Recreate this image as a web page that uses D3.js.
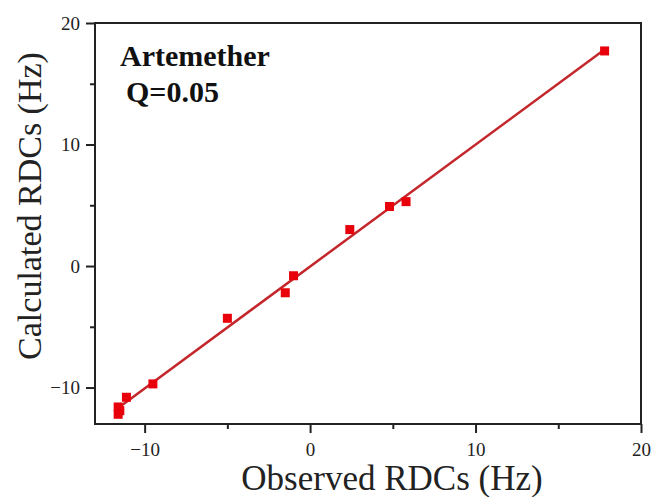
<!DOCTYPE html>
<html><head><meta charset="utf-8">
<script src="https://cdn.jsdelivr.net/npm/d3@7"></script>
<style>body{margin:0;background:#fff}svg{display:block}</style>
</head><body>
<script>
const observed   = [17.8, 5.8, 4.8, 2.4, -1.0, -1.5, -5.0, -9.5, -11.1, -11.6, -11.6, -11.5];
const calculated = [17.7, 5.3, 4.9, 3.0, -0.8, -2.2, -4.3, -9.7, -10.8, -11.6, -12.2, -11.9];
const majorTicks = [-10, 0, 10, 20];
const minorTicks = [-5, 5, 15];
const title = "Artemether";
const qLabel = "Q=0.05";

const W = 655, H = 497;
const m = {l: 95, r: 14, t: 23, b: 73};
const svg = d3.select("body").append("svg").attr("width", W).attr("height", H);
const x = d3.scaleLinear().domain([-13, 20]).range([m.l, W - m.r]);
const y = d3.scaleLinear().domain([-13, 20]).range([H - m.b, m.t]);
const font = "'Liberation Serif', 'Times New Roman', serif";
const axCol = "#222";

// frame
svg.append("rect").attr("x", x(-13)).attr("y", y(20)).attr("width", x(20) - x(-13)).attr("height", y(-13) - y(20))
  .attr("fill", "none").attr("stroke", axCol).attr("stroke-width", 2);

// x axis
const gx = svg.append("g").attr("transform", `translate(0,${y(-13)})`)
  .call(d3.axisBottom(x).tickValues(majorTicks).tickSize(9).tickPadding(10).tickFormat(d3.format("d")));
gx.select(".domain").remove();
gx.selectAll("line").attr("stroke", axCol).attr("stroke-width", 2);
gx.selectAll("text").attr("font-family", font).attr("font-size", 19).attr("fill", "#222");
const gxm = svg.append("g").attr("transform", `translate(0,${y(-13)})`)
  .call(d3.axisBottom(x).tickValues(minorTicks).tickSize(5).tickFormat(""));
gxm.select(".domain").remove();
gxm.selectAll("line").attr("stroke", axCol).attr("stroke-width", 2);

// y axis
const gy = svg.append("g").attr("transform", `translate(${x(-13)},0)`)
  .call(d3.axisLeft(y).tickValues(majorTicks).tickSize(9).tickPadding(6).tickFormat(d3.format("d")));
gy.select(".domain").remove();
gy.selectAll("line").attr("stroke", axCol).attr("stroke-width", 2);
gy.selectAll("text").attr("font-family", font).attr("font-size", 19).attr("fill", "#222");
const gym = svg.append("g").attr("transform", `translate(${x(-13)},0)`)
  .call(d3.axisLeft(y).tickValues(minorTicks).tickSize(5).tickFormat(""));
gym.select(".domain").remove();
gym.selectAll("line").attr("stroke", axCol).attr("stroke-width", 2);

// fit line (least squares)
const n = observed.length;
const mx = d3.mean(observed), my = d3.mean(calculated);
let sxy = 0, sxx = 0;
for (let i = 0; i < n; i++) { sxy += (observed[i]-mx)*(calculated[i]-my); sxx += (observed[i]-mx)**2; }
const slope = sxy / sxx, icpt = my - slope * mx;
const [x0, x1] = d3.extent(observed);
svg.append("line").attr("x1", x(x0)).attr("y1", y(slope*x0+icpt)).attr("x2", x(x1)).attr("y2", y(slope*x1+icpt))
  .attr("stroke", "#c3262b").attr("stroke-width", 2.5);

// points
const s = 9;
svg.append("g").selectAll("rect").data(observed.map((v, i) => [v, calculated[i]])).join("rect")
  .attr("x", d => x(d[0]) - s/2).attr("y", d => y(d[1]) - s/2).attr("width", s).attr("height", s)
  .attr("fill", "#e8000b");

// labels
svg.append("text").attr("x", 120).attr("y", 66).attr("font-family", font).attr("font-weight", "bold")
  .attr("font-size", 30).attr("fill", "#111").text(title);
svg.append("text").attr("x", 126).attr("y", 102).attr("font-family", font).attr("font-weight", "bold")
  .attr("font-size", 30).attr("fill", "#111").text(qLabel);

svg.append("text").attr("x", 392).attr("y", 490).attr("text-anchor", "middle")
  .attr("font-family", font).attr("font-size", 35).attr("fill", "#222").text("Observed RDCs (Hz)");
svg.append("text").attr("transform", `translate(41,206) rotate(-90)`).attr("text-anchor", "middle")
  .attr("font-family", font).attr("font-size", 34).attr("fill", "#222").text("Calculated RDCs (Hz)");
</script>
</body></html>
